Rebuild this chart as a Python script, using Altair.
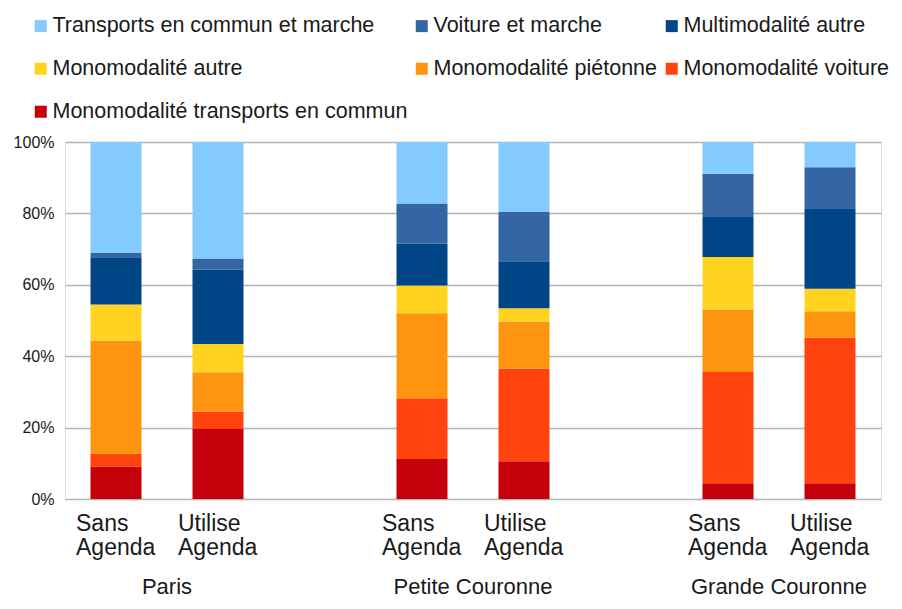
import altair as alt
import pandas as pd

# Bars (slots), in drawing order
bar_keys = ["P_S", "P_U", "PC_S", "PC_U", "GC_S", "GC_U"]
slot_domain = ["P_S", "P_U", "gap1", "PC_S", "PC_U", "gap2", "GC_S", "GC_U"]
line1 = ["Sans", "Utilise", "Sans", "Utilise", "Sans", "Utilise"]
line2 = ["Agenda", "Agenda", "Agenda", "Agenda", "Agenda", "Agenda"]
groups = ["Paris", "Petite Couronne", "Grande Couronne"]
group_first_bar = ["P_S", "PC_S", "GC_S"]

# Series (legend order) and colours
series = [
    "Transports en commun et marche",
    "Voiture et marche",
    "Multimodalité autre",
    "Monomodalité autre",
    "Monomodalité piétonne",
    "Monomodalité voiture",
    "Monomodalité transports en commun",
]
colors = ["#83caff", "#3465a4", "#004586", "#ffd320", "#ff950e", "#ff420e", "#c5000b"]
# stacking order from bottom
stack_order = [
    "Monomodalité transports en commun",
    "Monomodalité voiture",
    "Monomodalité piétonne",
    "Monomodalité autre",
    "Multimodalité autre",
    "Voiture et marche",
    "Transports en commun et marche",
]

# Values (%) per bar: P_S, P_U, PC_S, PC_U, GC_S, GC_U
mono_tc = [9.0, 19.6, 11.2, 10.6, 4.4, 4.4]
mono_voiture = [3.7, 4.9, 17.0, 25.9, 31.2, 40.8]
mono_pieton = [31.7, 11.0, 23.8, 13.2, 17.5, 7.4]
mono_autre = [10.1, 7.9, 7.8, 3.7, 14.7, 6.3]
multi_autre = [13.2, 20.9, 11.8, 13.2, 11.2, 22.3]
voiture_marche = [1.2, 3.1, 11.2, 13.8, 12.1, 11.7]
tc_marche = [31.1, 32.6, 17.2, 19.6, 8.9, 7.1]

values = {
    "Monomodalité transports en commun": mono_tc,
    "Monomodalité voiture": mono_voiture,
    "Monomodalité piétonne": mono_pieton,
    "Monomodalité autre": mono_autre,
    "Multimodalité autre": multi_autre,
    "Voiture et marche": voiture_marche,
    "Transports en commun et marche": tc_marche,
}

rows = []
for s in stack_order:
    for k, v in zip(bar_keys, values[s]):
        rows.append({"key": k, "serie": s, "val": v, "ord": stack_order.index(s)})
df = pd.DataFrame(rows)

lab_df = pd.DataFrame({"key": bar_keys, "l1": line1, "l2": line2})
grp_df = pd.DataFrame({"key": group_first_bar, "g": groups})

W, H = 816, 357
xscale = alt.Scale(domain=slot_domain, paddingInner=0.5, paddingOuter=0.25)
FONT = "Liberation Sans"
TXT = "#1a1a1a"

bars = alt.Chart(df).mark_bar().encode(
    x=alt.X("key:N", scale=xscale, axis=None),
    y=alt.Y(
        "val:Q",
        stack="normalize",
        scale=alt.Scale(domain=[0, 1]),
        axis=alt.Axis(
            values=[0, 0.2, 0.4, 0.6, 0.8, 1.0],
            format=".0%",
            title=None,
            domain=False,
            ticks=False,
            grid=True,
            gridColor="#b3b3b3",
            gridWidth=1.4,
            labelFontSize=16,
            labelFont=FONT,
            labelColor=TXT,
            labelPadding=11,
        ),
    ),
    color=alt.Color(
        "serie:N",
        scale=alt.Scale(domain=series, range=colors),
        legend=alt.Legend(
            title=None,
            orient="none",
            legendX=-35,
            legendY=-127,
            direction="horizontal",
            columns=3,
            symbolType="square",
            symbolSize=144,
            symbolStrokeWidth=0,
            labelFontSize=21.5,
            labelFont=FONT,
            labelColor=TXT,
            labelOffset=1,
            labelLimit=500,
            rowPadding=20,
            columnPadding=3,
            padding=0,
        ),
    ),
    order=alt.Order("ord:Q", sort="ascending"),
)

t1 = alt.Chart(lab_df).mark_text(
    align="left", baseline="alphabetic", dx=-40, fontSize=23, font=FONT, color=TXT
).encode(x=alt.X("key:N", scale=xscale, axis=None), y=alt.value(389), text="l1:N")

t2 = alt.Chart(lab_df).mark_text(
    align="left", baseline="alphabetic", dx=-40, fontSize=23, font=FONT, color=TXT
).encode(x=alt.X("key:N", scale=xscale, axis=None), y=alt.value(413), text="l2:N")

tg = alt.Chart(grp_df).mark_text(
    align="center", baseline="alphabetic", dx=51, fontSize=22, font=FONT, color=TXT
).encode(x=alt.X("key:N", scale=xscale, axis=None), y=alt.value(452), text="g:N")

chart = alt.layer(bars, t1, t2, tg).properties(
    width=W,
    height=H,
    padding={"left": 57, "top": 134, "right": 13, "bottom": 102},
    autosize=alt.AutoSizeParams(type="none"),
).configure_view(stroke=None).configure(background="white")

chart.save("out.html", embed_options={"renderer": "svg", "actions": False})
